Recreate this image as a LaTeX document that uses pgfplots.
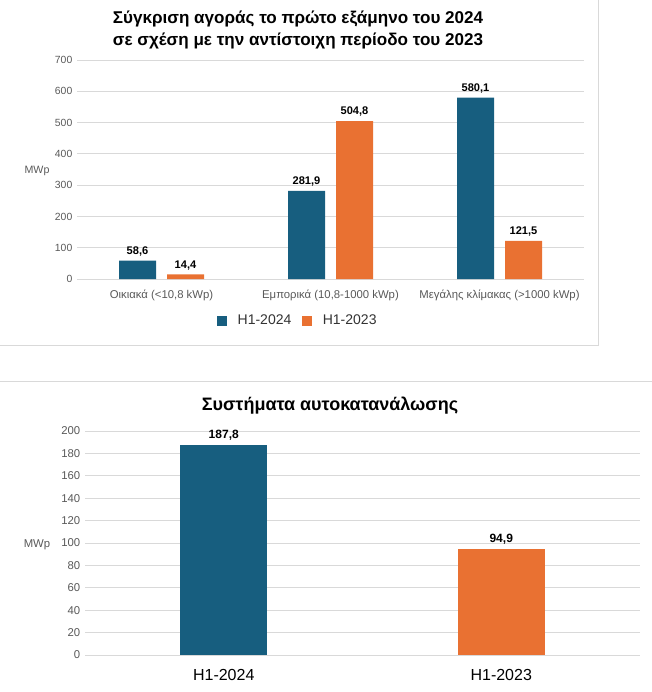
\documentclass[border=0pt]{standalone}
\usepackage{fontspec}
\setmainfont{Liberation Sans}
\usepackage{pgfplots}
\pgfplotsset{compat=1.18}
\definecolor{cblue}{RGB}{23,94,127}
\definecolor{corange}{RGB}{233,113,50}
\definecolor{gridc}{RGB}{217,217,217}
\definecolor{tickc}{RGB}{89,89,89}
\pgfplotsset{
  /pgf/number format/assume math mode=true,
  common/.style={
    scale only axis,
    anchor=south west,
    ymajorgrids,
    grid style={gridc, line width=0.75pt},
    axis line style={draw=none},
    major tick length=0pt,
    xtick style={draw=none}, ytick style={draw=none},
    nodes near coords={\pgfmathprintnumber[fixed,fixed zerofill,precision=1,use comma]{\pgfplotspointmeta}},
    clip=false,
  }
}
\begin{document}
\begin{tikzpicture}
\begin{scope}[x=0.75pt,y=-0.75pt]
\path[use as bounding box] (0,0) rectangle (652,692);
\draw[gridc, line width=0.75pt] (598,0) -- (598,345) -- (0,345);
\draw[gridc, line width=0.75pt] (0,381) -- (652,381);
\node[font=\bfseries\fontsize{12.8}{16}\selectfont, align=center] at (298,30) {Σύγκριση αγοράς το πρώτο εξάμηνο του 2024\\σε σχέση με την αντίστοιχη περίοδο του 2023};
\node[font=\bfseries\fontsize{13.5}{16}\selectfont] at (330,406) {Συστήματα αυτοκατανάλωσης};
\node[font=\fontsize{8}{10}\selectfont, text=tickc] at (37,171) {MWp};
\node[font=\fontsize{8.5}{10}\selectfont, text=tickc] at (37,545) {MWp};
\end{scope}

\begin{axis}[common,
  at={(57.75pt,-209.25pt)},
  width=380.25pt, height=164.25pt,
  ybar=8.25pt, bar width=27.75pt,
  xmin=-0.5, xmax=2.5, ymin=0, ymax=700,
  ytick={0,100,...,700},
  xtick={0,1,2},
  xticklabels={{Οικιακά (<10,8 kWp)}, {Εμπορικά (10,8-1000 kWp)}, {Μεγάλης κλίμακας (>1000 kWp)}},
  yticklabel style={font=\fontsize{7.8}{9}\selectfont, text=tickc},
  xticklabel style={font=\fontsize{8.5}{10}\selectfont, text=tickc, yshift=-5pt},
  nodes near coords style={font=\bfseries\fontsize{8.3}{10}\selectfont, text=black},
  legend style={draw=none, at={(0.436,-0.192)}, anchor=center, font=\fontsize{10.5}{12}\selectfont, text=black!80, legend columns=2, column sep=6pt, inner sep=0pt},
  legend image code/.code={\fill[#1] (0pt,-3.8pt) rectangle (7.6pt,3.8pt);},
]
\addplot[fill=cblue, draw=none] coordinates {(0,58.6) (1,281.9) (2,580.1)};
\addlegendentry{H1-2024}
\addplot[fill=corange, draw=none] coordinates {(0,14.4) (1,504.8) (2,121.5)};
\addlegendentry{H1-2023}
\end{axis}

\begin{axis}[common,
  at={(63.75pt,-491.25pt)},
  width=416.25pt, height=168pt,
  ybar=0pt, bar width=65.25pt,
  xmin=-0.5, xmax=1.5, ymin=0, ymax=200,
  ytick={0,20,...,200},
  xtick={0,1},
  xticklabels={H1-2024, H1-2023},
  yticklabel style={font=\fontsize{8.5}{10}\selectfont, text=tickc},
  xticklabel style={font=\fontsize{12}{14}\selectfont, text=black, yshift=-7pt},
  nodes near coords style={font=\bfseries\fontsize{9}{10}\selectfont, text=black},
]
\addplot[fill=cblue, draw=none, bar shift=0pt] coordinates {(0,187.8)};
\addplot[fill=corange, draw=none, bar shift=0pt] coordinates {(1,94.9)};
\end{axis}
\end{tikzpicture}
\end{document}
